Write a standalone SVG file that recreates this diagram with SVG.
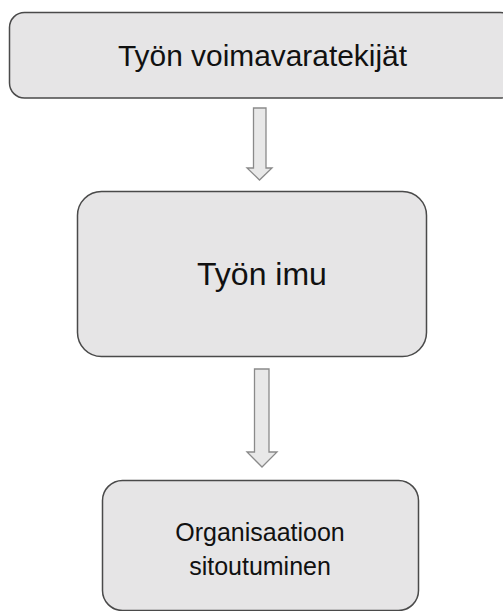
<svg xmlns="http://www.w3.org/2000/svg" width="503" height="611" viewBox="0 0 503 611">
<style>
.box{fill:#e6e5e6;stroke:#4a4a4a;stroke-width:1.5}
.arrow{fill:#e8e8e8;stroke:#8a8a8a;stroke-width:1.3}
.t{font-family:"Liberation Sans",Arial,sans-serif;fill:#111;text-anchor:middle}
</style>
<rect width="503" height="611" fill="#ffffff"/>
<g id="connectors">
<path class="arrow" d="M253.5,108 H266 V168 H272 L259.5,180 L247,168 H253.5 Z"/>
<path class="arrow" d="M254.5,369 H269 V452 H277 L262,467 L247,452 H254.5 Z"/>
</g>
<g id="node1">
<rect class="box" x="9.5" y="12.5" width="506" height="85.5" rx="15" ry="15"/>
<text class="t" x="262.5" y="66" font-size="30" textLength="289" lengthAdjust="spacingAndGlyphs">Työn voimavaratekijät</text>
</g>
<g id="node2">
<rect class="box" x="77.5" y="191.5" width="349" height="165" rx="24" ry="24"/>
<text class="t" x="262" y="285" font-size="32">Työn imu</text>
</g>
<g id="node3">
<rect class="box" x="102.5" y="480.5" width="316" height="130" rx="20" ry="20"/>
<text class="t" x="260" y="541" font-size="25">Organisaatioon</text>
<text class="t" x="260" y="575" font-size="25">sitoutuminen</text>
</g>
</svg>
